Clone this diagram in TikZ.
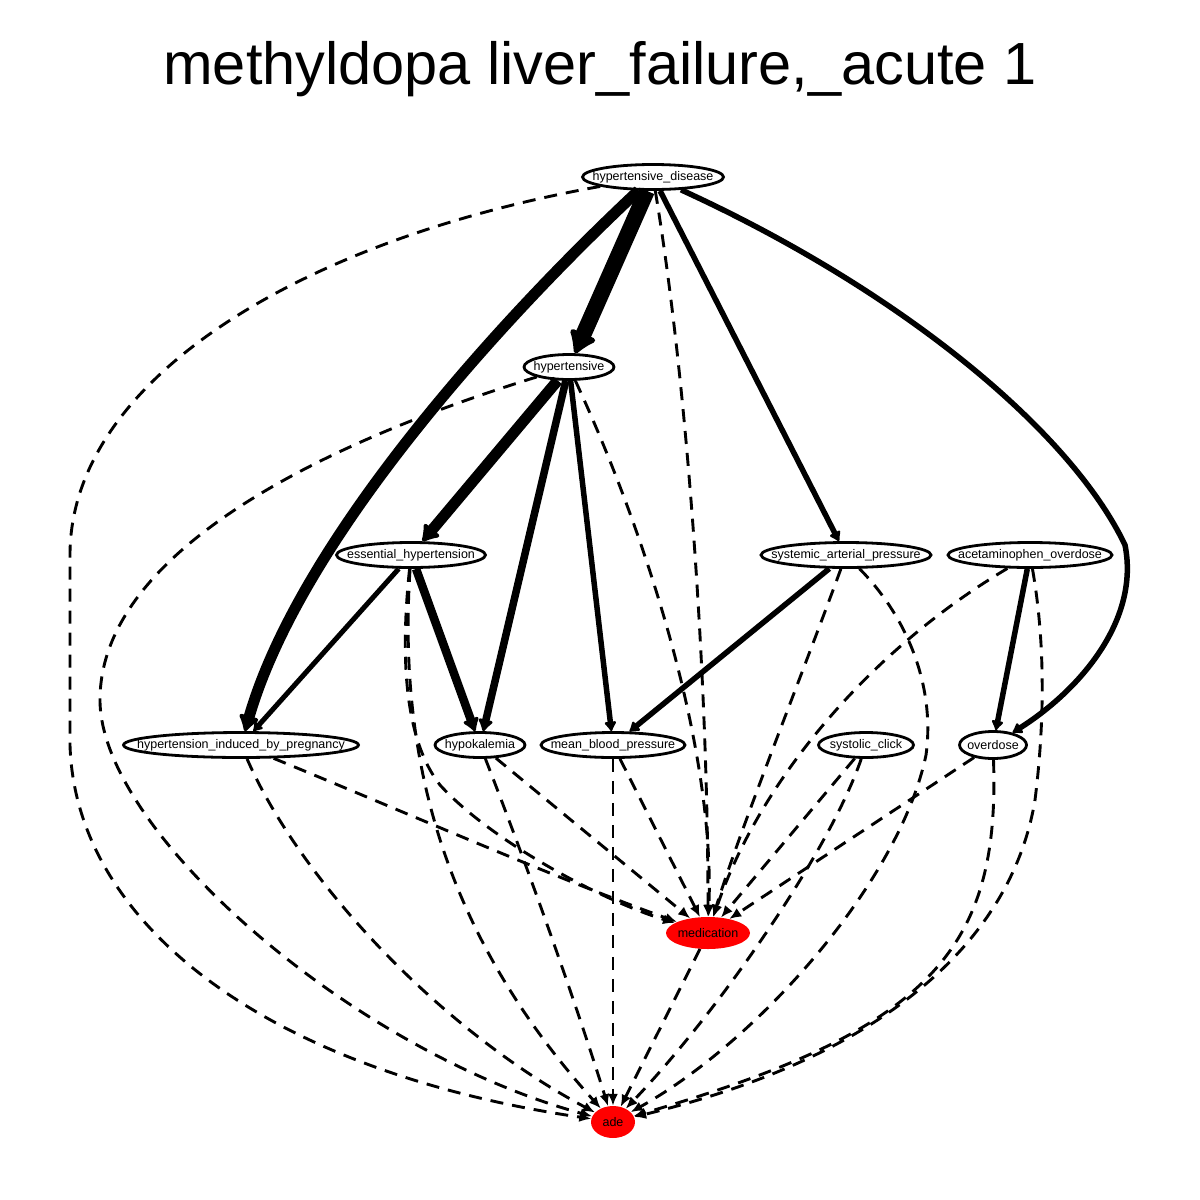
\documentclass[tikz,border=0pt]{standalone}
\usepackage{fontspec}
\setmainfont{Liberation Sans}
\usetikzlibrary{shapes.geometric,arrows.meta}
\begin{document}
\begin{tikzpicture}[x=1pt,y=-1pt,
  lab/.style={font=\fontsize{12.5}{14}\selectfont,inner sep=0pt},
  nd/.style={ellipse,draw,line width=2.8pt,fill=white,inner sep=0pt,minimum height=25pt},
  rd/.style={ellipse,fill=red,inner sep=0pt},
  dsh/.style={line width=2.9pt,dash pattern=on 13pt off 9pt,-{Latex[length=12pt,width=10pt]}},
  sol/.style={line width=#1,-{Latex[round,length=4pt 1.3,width=4pt 1.9]}},
]
\useasboundingbox (0,0) rectangle (1200,1200);
\node[font=\fontsize{59.5}{72}\selectfont,anchor=base] (title) at (600,84) {methyldopa liver\_failure,\_acute 1};

\node[nd,minimum width=141pt,label={[lab]center:hypertensive\_disease}] (hd) at (653,177) {};
\node[nd,minimum width=90pt,label={[lab]center:hypertensive}] (hyp) at (569,367) {};
\node[nd,minimum width=149pt,label={[lab]center:essential\_hypertension}] (eh) at (411,555) {};
\node[nd,minimum width=170pt,label={[lab]center:systemic\_arterial\_pressure}] (sap) at (846,555) {};
\node[nd,minimum width=164pt,label={[lab]center:acetaminophen\_overdose}] (ao) at (1030,555) {};
\node[nd,minimum width=235pt,label={[lab]center:hypertension\_induced\_by\_pregnancy}] (hip) at (241,745) {};
\node[nd,minimum width=90pt,label={[lab]center:hypokalemia}] (hk) at (480,745) {};
\node[nd,minimum width=144pt,label={[lab]center:mean\_blood\_pressure}] (mbp) at (613,745) {};
\node[nd,minimum width=95pt,label={[lab]center:systolic\_click}] (sc) at (866,745) {};
\node[nd,minimum width=67pt,minimum height=27pt,label={[lab]center:overdose}] (od) at (993,745) {};
\node[rd,minimum width=84pt,minimum height=32pt,label={[lab]center:medication}] (med) at (708,933) {};
\node[rd,minimum width=44pt,minimum height=32pt,label={[lab]center:ade}] (ade) at (613,1122) {};

% solid edges
\draw[sol=16pt] (hd) -- (hyp);
\draw[sol=11pt] (hd) .. controls (500,320) and (300,540) .. (hip);
\draw[sol=5.5pt] (hd) -- (sap);
\draw[sol=5.5pt] (hd) .. controls (900,290) and (1070,430) .. (1125,545) .. controls (1140,620) and (1080,690) .. (od);
\draw[sol=11pt] (hyp) -- (eh);
\draw[sol=7.5pt] (hyp) -- (hk);
\draw[sol=5.5pt] (hyp) -- (mbp);
\draw[sol=5pt] (eh) -- (hip);
\draw[sol=8.5pt] (eh) -- (hk);
\draw[sol=5.5pt] (sap) -- (mbp);
\draw[sol=5.5pt] (ao) -- (od);

% dashed edges
\draw[dsh] (hd) .. controls (300,240) and (70,380) .. (70,555) -- (70,745) .. controls (75,920) and (260,1070) .. (ade);
\draw[dsh] (hd) .. controls (690,400) and (708,700) .. (med);
\draw[dsh] (hyp) .. controls (300,450) and (100,560) .. (100,700) .. controls (100,830) and (350,1050) .. (ade);
\draw[dsh] (hyp) .. controls (640,520) and (715,740) .. (med);
\draw[dsh] (eh) .. controls (398,750) and (440,930) .. (ade);
\draw[dsh] (eh) .. controls (400,660) and (405,740) .. (440,785) .. controls (490,840) and (600,900) .. (med);
\draw[dsh] (hip) .. controls (300,880) and (440,1030) .. (ade);
\draw[dsh] (hip) .. controls (400,810) and (560,880) .. (med);
\draw[dsh] (hk) .. controls (525,860) and (575,1000) .. (ade);
\draw[dsh] (hk) -- (med);
\draw[dsh] (mbp) -- (ade);
\draw[dsh] (mbp) -- (med);
\draw[dsh] (sap) .. controls (800,680) and (740,830) .. (med);
\draw[dsh] (sap) .. controls (910,620) and (935,690) .. (926,755) .. controls (900,880) and (760,1040) .. (ade);
\draw[dsh] (ao) .. controls (870,650) and (760,780) .. (med);
\draw[dsh] (ao) .. controls (1045,640) and (1045,720) .. (1035,800) .. controls (1010,950) and (870,1060) .. (ade);
\draw[dsh] (od) .. controls (1000,950) and (930,1030) .. (ade);
\draw[dsh] (od) -- (med);
\draw[dsh] (sc) -- (med);
\draw[dsh] (sc) .. controls (830,850) and (720,1010) .. (ade);
\draw[dsh] (med) -- (ade);
\end{tikzpicture}
\end{document}
